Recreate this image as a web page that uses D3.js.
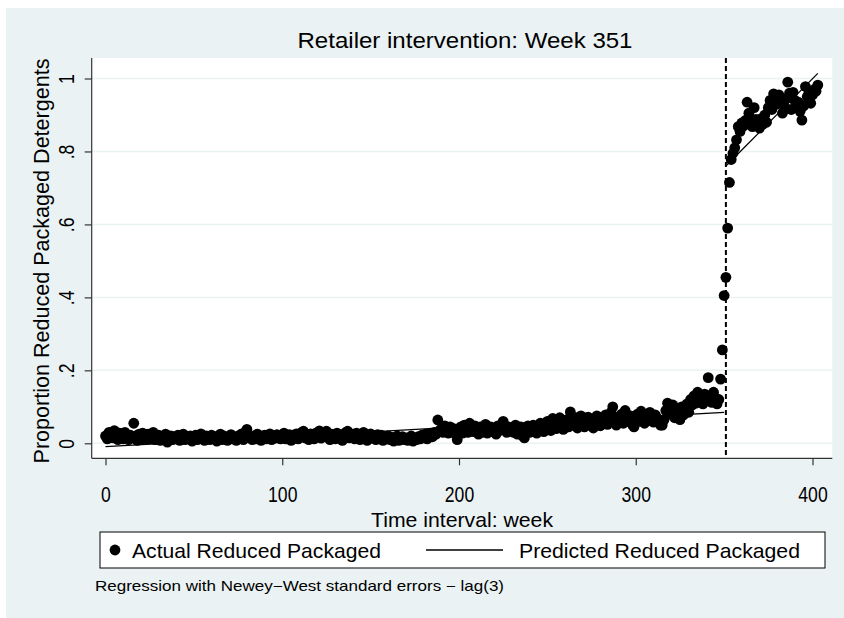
<!DOCTYPE html>
<html>
<head>
<meta charset="utf-8">
<script src="https://cdn.jsdelivr.net/npm/d3@7"></script>
<style>
  body { margin: 0; background: #ffffff; }
  svg { display: block; }
  text { font-family: "Liberation Sans Narrow", "Liberation Sans", Arial, sans-serif; fill: #000; }
</style>
</head>
<body>
<svg id="chart" width="844" height="618"></svg>
<script>
// Weekly share of reduced-packaged detergents, one value per week starting at week 0
const firstWeek = 0;
const actual = [
  0.020, 0.012, 0.030, 0.025, 0.015, 0.035, 0.020, 0.010, 0.028, 0.018,
  0.012, 0.030, 0.020, 0.010, 0.022, 0.015, 0.055, 0.020, 0.008, 0.025,
  0.015, 0.028, 0.010, 0.018, 0.025, 0.012, 0.020, 0.030, 0.010, 0.016,
  0.022, 0.008, 0.018, 0.012, 0.025, 0.003, 0.015, 0.020, 0.010, 0.018,
  0.012, 0.022, 0.008, 0.015, 0.025, 0.010, 0.018, 0.012, 0.020, 0.006,
  0.015, 0.022, 0.010, 0.018, 0.026, 0.012, 0.008, 0.020, 0.015, 0.010,
  0.022, 0.012, 0.018, 0.006, 0.015, 0.025, 0.010, 0.020, 0.013, 0.008,
  0.018, 0.024, 0.012, 0.016, 0.008, 0.020, 0.014, 0.026, 0.010, 0.030,
  0.038, 0.022, 0.015, 0.010, 0.020, 0.012, 0.025, 0.016, 0.008, 0.018,
  0.022, 0.012, 0.016, 0.026, 0.010, 0.020, 0.014, 0.024, 0.018, 0.012,
  0.020, 0.028, 0.012, 0.018, 0.024, 0.008, 0.022, 0.015, 0.026, 0.012,
  0.018, 0.030, 0.033, 0.015, 0.022, 0.010, 0.026, 0.018, 0.012, 0.028,
  0.020, 0.034, 0.014, 0.024, 0.030, 0.033, 0.016, 0.010, 0.025, 0.020,
  0.012, 0.028, 0.018, 0.022, 0.008, 0.026, 0.030, 0.033, 0.015, 0.020,
  0.025, 0.012, 0.028, 0.018, 0.010, 0.022, 0.030, 0.016, 0.008, 0.020,
  0.026, 0.014, 0.020, 0.010, 0.024, 0.016, 0.022, 0.008, 0.018, 0.012,
  0.020, 0.010, 0.016, 0.006, 0.014, 0.020, 0.008, 0.012, 0.018, 0.010,
  0.015, 0.008, 0.012, 0.020, 0.006, 0.014, 0.010, 0.018, 0.012, 0.022,
  0.015, 0.025, 0.012, 0.020, 0.028, 0.018, 0.030, 0.025, 0.064, 0.035,
  0.040, 0.030, 0.048, 0.035, 0.028, 0.045, 0.032, 0.040, 0.025, 0.010,
  0.035, 0.045, 0.028, 0.050, 0.038, 0.030, 0.055, 0.042, 0.032, 0.048,
  0.035, 0.025, 0.045, 0.030, 0.040, 0.052, 0.028, 0.038, 0.045, 0.032,
  0.040, 0.025, 0.048, 0.035, 0.050, 0.060, 0.038, 0.030, 0.045, 0.035,
  0.042, 0.030, 0.050, 0.025, 0.038, 0.045, 0.020, 0.015, 0.035, 0.048,
  0.030, 0.042, 0.050, 0.035, 0.028, 0.045, 0.055, 0.040, 0.032, 0.050,
  0.060, 0.045, 0.035, 0.068, 0.050, 0.040, 0.058, 0.070, 0.048, 0.038,
  0.055, 0.065, 0.045, 0.086, 0.060, 0.050, 0.070, 0.042, 0.062, 0.075,
  0.055, 0.045, 0.068, 0.072, 0.050, 0.060, 0.042, 0.065, 0.075, 0.055,
  0.048, 0.070, 0.060, 0.078, 0.052, 0.065, 0.085, 0.100, 0.060, 0.050,
  0.072, 0.065, 0.080, 0.055, 0.090, 0.070, 0.060, 0.075, 0.052, 0.045,
  0.065, 0.080, 0.060, 0.088, 0.070, 0.055, 0.075, 0.062, 0.085, 0.068,
  0.058, 0.078, 0.070, 0.062, 0.050, 0.050, 0.065, 0.090, 0.110, 0.095,
  0.080, 0.105, 0.070, 0.095, 0.085, 0.065, 0.100, 0.078, 0.090, 0.108,
  0.085, 0.120, 0.105, 0.130, 0.110, 0.140, 0.118, 0.125, 0.108, 0.135,
  0.120, 0.180, 0.130, 0.112, 0.140, 0.125, 0.108, 0.120,
  0.176, 0.256, 0.405, 0.455, 0.590, 0.715,
  0.778, 0.795, 0.810, 0.832, 0.868, 0.855, 0.878, 0.870, 0.885, 0.935,
  0.905, 0.885, 0.868, 0.920, 0.888, 0.875, 0.864, 0.890, 0.875, 0.900,
  0.880, 0.920, 0.940, 0.915, 0.958, 0.945, 0.930, 0.955, 0.935, 0.905,
  0.925, 0.945, 0.990, 0.960, 0.915, 0.962, 0.940, 0.920, 0.935, 0.910,
  0.886, 0.925, 0.978, 0.950, 0.960, 0.932, 0.955, 0.970, 0.965, 0.982
];

// Fitted segmented regression, before and after the intervention
const predPreWeeks = [0, 350];
const predPre = [-0.009, 0.085];
const predPostWeeks = [351, 403];
const predPost = [0.760, 1.014];
const interventionWeek = 351;

const xTicks = [0, 100, 200, 300, 400];
const yTicks = [0, 0.2, 0.4, 0.6, 0.8, 1];
const yTickLabels = ["0", ".2", ".4", ".6", ".8", "1"];

const titleText = "Retailer intervention: Week 351";
const xTitle = "Time interval: week";
const yTitle = "Proportion Reduced Packaged Detergents";
const legendLabels = ["Actual Reduced Packaged", "Predicted Reduced Packaged"];
const noteText = "Regression with Newey\u2212West standard errors \u2212 lag(3)";

// ---- layout ----
const svg = d3.select("#chart");
const plot = { left: 91.7, right: 832.3, top: 58, bottom: 458.3 };

const x = d3.scaleLinear().domain([0, 400]).range([105.5, 812.5]);
const y = d3.scaleLinear().domain([0, 1]).range([443.3, 78.5]);

// narrow lettering: squeeze each label along its own direction
function condense(sel, factor) {
  sel.each(function () {
    const w = this.getComputedTextLength();
    d3.select(this).attr("textLength", w * factor).attr("lengthAdjust", "spacingAndGlyphs");
  });
}

// graph region background
svg.append("rect").attr("x", 6).attr("y", 8).attr("width", 838).attr("height", 610)
  .attr("fill", "#eaf2f3");
// plot region
svg.append("rect").attr("x", plot.left).attr("y", plot.top)
  .attr("width", plot.right - plot.left).attr("height", plot.bottom - plot.top)
  .attr("fill", "#ffffff");

// horizontal grid lines
svg.append("g").selectAll("line").data(yTicks).join("line")
  .attr("x1", plot.left).attr("x2", plot.right)
  .attr("y1", d => y(d)).attr("y2", d => y(d))
  .attr("stroke", "#eaf2f3").attr("stroke-width", 1.5);

// markers
const pts = actual.map((v, i) => ({ week: firstWeek + i, value: v }));
svg.append("g").selectAll("circle").data(pts).join("circle")
  .attr("cx", d => x(d.week)).attr("cy", d => y(d.value)).attr("r", 5.4)
  .attr("fill", "#000");

// fitted lines
const line = d3.line().x(d => x(d[0])).y(d => y(d[1]));
[[predPreWeeks, predPre], [predPostWeeks, predPost]].forEach(([w, v]) => {
  svg.append("path").datum(w.map((wk, i) => [wk, v[i]]))
    .attr("d", line).attr("fill", "none").attr("stroke", "#000").attr("stroke-width", 1.3);
});

// intervention marker
svg.append("line")
  .attr("x1", x(interventionWeek)).attr("x2", x(interventionWeek))
  .attr("y1", plot.top).attr("y2", plot.bottom)
  .attr("stroke", "#000").attr("stroke-width", 2).attr("stroke-dasharray", "5,3");

// axes
const xAxis = svg.append("g").attr("transform", `translate(0,${plot.bottom})`)
  .call(d3.axisBottom(x).tickValues(xTicks).tickSize(7).tickPadding(26).tickFormat(d3.format("d")));
xAxis.select(".domain").attr("d", `M${plot.left},0H${plot.right}`).attr("stroke", "#333").attr("stroke-width", 1.2);
xAxis.selectAll(".tick line").attr("stroke", "#333").attr("stroke-width", 1.2);
xAxis.selectAll("text").attr("font-size", 22).attr("font-family", null).attr("dy", "0.5em");
condense(xAxis.selectAll("text"), 0.8);

const yAxis = svg.append("g").attr("transform", `translate(${plot.left},0)`)
  .call(d3.axisLeft(y).tickValues(yTicks).tickSize(7).tickFormat((d, i) => yTickLabels[i]));
yAxis.select(".domain").attr("d", `M0,${plot.top}V${plot.bottom}`).attr("stroke", "#333").attr("stroke-width", 1.2);
yAxis.selectAll(".tick line").attr("stroke", "#333").attr("stroke-width", 1.2);
yAxis.selectAll("text")
  .attr("font-size", 22).attr("font-family", null)
  .attr("x", null).attr("dy", null)
  .attr("text-anchor", "middle")
  .attr("transform", "translate(-18,0) rotate(-90)");
condense(yAxis.selectAll("text"), 0.8);

// titles
svg.append("text").attr("x", 465).attr("y", 48).attr("text-anchor", "middle")
  .attr("font-size", 22).attr("textLength", 335).attr("lengthAdjust", "spacingAndGlyphs")
  .text(titleText);
svg.append("text").attr("x", 462).attr("y", 527).attr("text-anchor", "middle")
  .attr("font-size", 21).attr("textLength", 182).attr("lengthAdjust", "spacingAndGlyphs")
  .text(xTitle);
svg.append("text").attr("transform", "translate(49,261) rotate(-90)").attr("text-anchor", "middle")
  .attr("font-size", 22).attr("textLength", 405).attr("lengthAdjust", "spacingAndGlyphs")
  .text(yTitle);

// legend
const lg = svg.append("g");
lg.append("rect").attr("x", 100).attr("y", 532).attr("width", 725).attr("height", 36)
  .attr("fill", "#ffffff").attr("stroke", "#000").attr("stroke-width", 1);
lg.append("circle").attr("cx", 115).attr("cy", 550).attr("r", 5.4).attr("fill", "#000");
lg.append("text").attr("x", 132).attr("y", 557.5).attr("font-size", 21)
  .attr("textLength", 249).attr("lengthAdjust", "spacingAndGlyphs").text(legendLabels[0]);
lg.append("line").attr("x1", 426).attr("x2", 503).attr("y1", 550).attr("y2", 550)
  .attr("stroke", "#000").attr("stroke-width", 1.3);
lg.append("text").attr("x", 519).attr("y", 557.5).attr("font-size", 21)
  .attr("textLength", 281).attr("lengthAdjust", "spacingAndGlyphs").text(legendLabels[1]);

// note
svg.append("text").attr("x", 95).attr("y", 591).attr("font-size", 14.5)
  .attr("textLength", 409).attr("lengthAdjust", "spacingAndGlyphs").text(noteText);
</script>
</body>
</html>
